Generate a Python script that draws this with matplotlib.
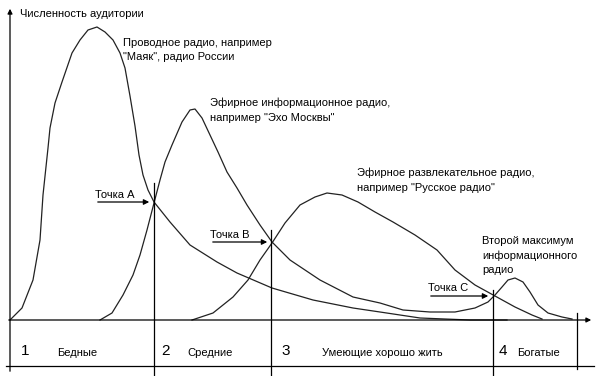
import matplotlib.pyplot as plt

plt.rcParams['font.family'] = ['Liberation Sans', 'DejaVu Sans']

# кривые (x, y в пикселях, y вниз)
wire_x = [10, 22, 33, 40, 43, 48, 50, 55, 62, 72, 80, 88, 97, 105, 113, 120, 125, 130,
          135, 139, 143, 148, 154, 170, 190, 217, 237, 272, 313, 353, 380, 420, 470, 507]
wire_y = [320, 308, 280, 240, 195, 148, 128, 103, 82, 53, 40, 30, 27, 32, 40, 53, 68, 96,
          126, 155, 175, 190, 202, 222, 245, 262, 273, 288, 300, 308, 312, 318, 320, 320]

info_x = [100, 112, 123, 133, 140, 147, 154, 160, 165, 172, 182, 190, 195, 202, 210, 218,
          227, 237, 247, 260, 272, 290, 320, 353, 380, 403, 430, 455, 475, 488, 495, 502,
          508, 515, 523, 530, 538, 548, 562, 572]
info_y = [320, 313, 295, 275, 255, 230, 203, 180, 162, 145, 122, 110, 109, 118, 135, 152,
          172, 188, 205, 225, 242, 260, 280, 297, 303, 310, 312, 312, 308, 302, 295, 287,
          280, 278, 282, 292, 305, 313, 317, 319]

fun_x = [192, 213, 233, 248, 260, 272, 285, 300, 315, 327, 342, 358, 375, 393, 415, 437,
         455, 475, 495, 515, 532, 542]
fun_y = [320, 313, 297, 280, 260, 243, 223, 205, 197, 193, 195, 202, 212, 222, 235, 250,
         270, 285, 296, 307, 315, 319]

# точки пересечения и границы групп
points = ['Точка А', 'Точка В', 'Точка С']
points_xy = [(154, 202), (272, 242), (493, 296)]
borders = [154, 271, 493, 577]
borders_top = [183, 230, 290, 313]
groups = ['Бедные', 'Средние', 'Умеющие хорошо жить', 'Богатые']

fig = plt.figure(figsize=(6, 3.76), dpi=100)
ax = fig.add_axes([0, 0, 1, 1])
ax.set_xlim(0, 600)
ax.set_ylim(376, 0)
ax.axis('off')

lc = '#222222'
ax.plot(wire_x, wire_y, color=lc, lw=0.9)
ax.plot(info_x, info_y, color=lc, lw=0.9)
ax.plot(fun_x, fun_y, color=lc, lw=0.9)

# оси
ax.annotate('', xy=(10, 6), xytext=(10, 374),
            arrowprops=dict(arrowstyle='-|>', color='black', lw=0.9, mutation_scale=7))
ax.annotate('', xy=(594, 320), xytext=(6, 320),
            arrowprops=dict(arrowstyle='-|>', color='black', lw=0.9, mutation_scale=7))
ax.plot([6, 594], [366, 366], color='black', lw=0.9)

for bx, bt in zip(borders, borders_top):
    bottom = 369 if bx == 577 else 376
    ax.plot([bx, bx], [bt, bottom], color='black', lw=0.9)

# точки
text_off = [(-59, -7), (-62, -7), (-65, -8)]
for name, (px, py), (dx, dy) in zip(points, points_xy, text_off):
    ax.text(px + dx, py + dy, name, fontsize=8, va='center', ha='left')
    ax.annotate('', xy=(px - 2, py), xytext=(px + dx, py),
                arrowprops=dict(arrowstyle='-|>', color='black', lw=0.9, mutation_scale=8))

# подписи
ax.text(20, 14, 'Численность аудитории', fontsize=8, va='center')
ax.text(123, 43, 'Проводное радио, например', fontsize=8, va='center')
ax.text(123, 57, '"Маяк", радио России', fontsize=8, va='center')
ax.text(210, 103, 'Эфирное информационное радио,', fontsize=8, va='center')
ax.text(210, 118, 'например "Эхо Москвы"', fontsize=8, va='center')
ax.text(357, 173, 'Эфирное развлекательное радио,', fontsize=8, va='center')
ax.text(357, 188, 'например "Русское радио"', fontsize=8, va='center')
ax.text(482, 241, 'Второй максимум', fontsize=8, va='center')
ax.text(482, 256, 'информационного', fontsize=8, va='center')
ax.text(482, 270, 'радио', fontsize=8, va='center')

# группы внизу
num_x = [21, 161, 281, 499]
grp_x = [57, 187, 322, 517]
for i, (nx, gx, g) in enumerate(zip(num_x, grp_x, groups)):
    ax.text(nx, 351, str(i + 1), fontsize=11, va='center')
    ax.text(gx, 353, g, fontsize=8, va='center')

plt.savefig('out.png', dpi=100)
